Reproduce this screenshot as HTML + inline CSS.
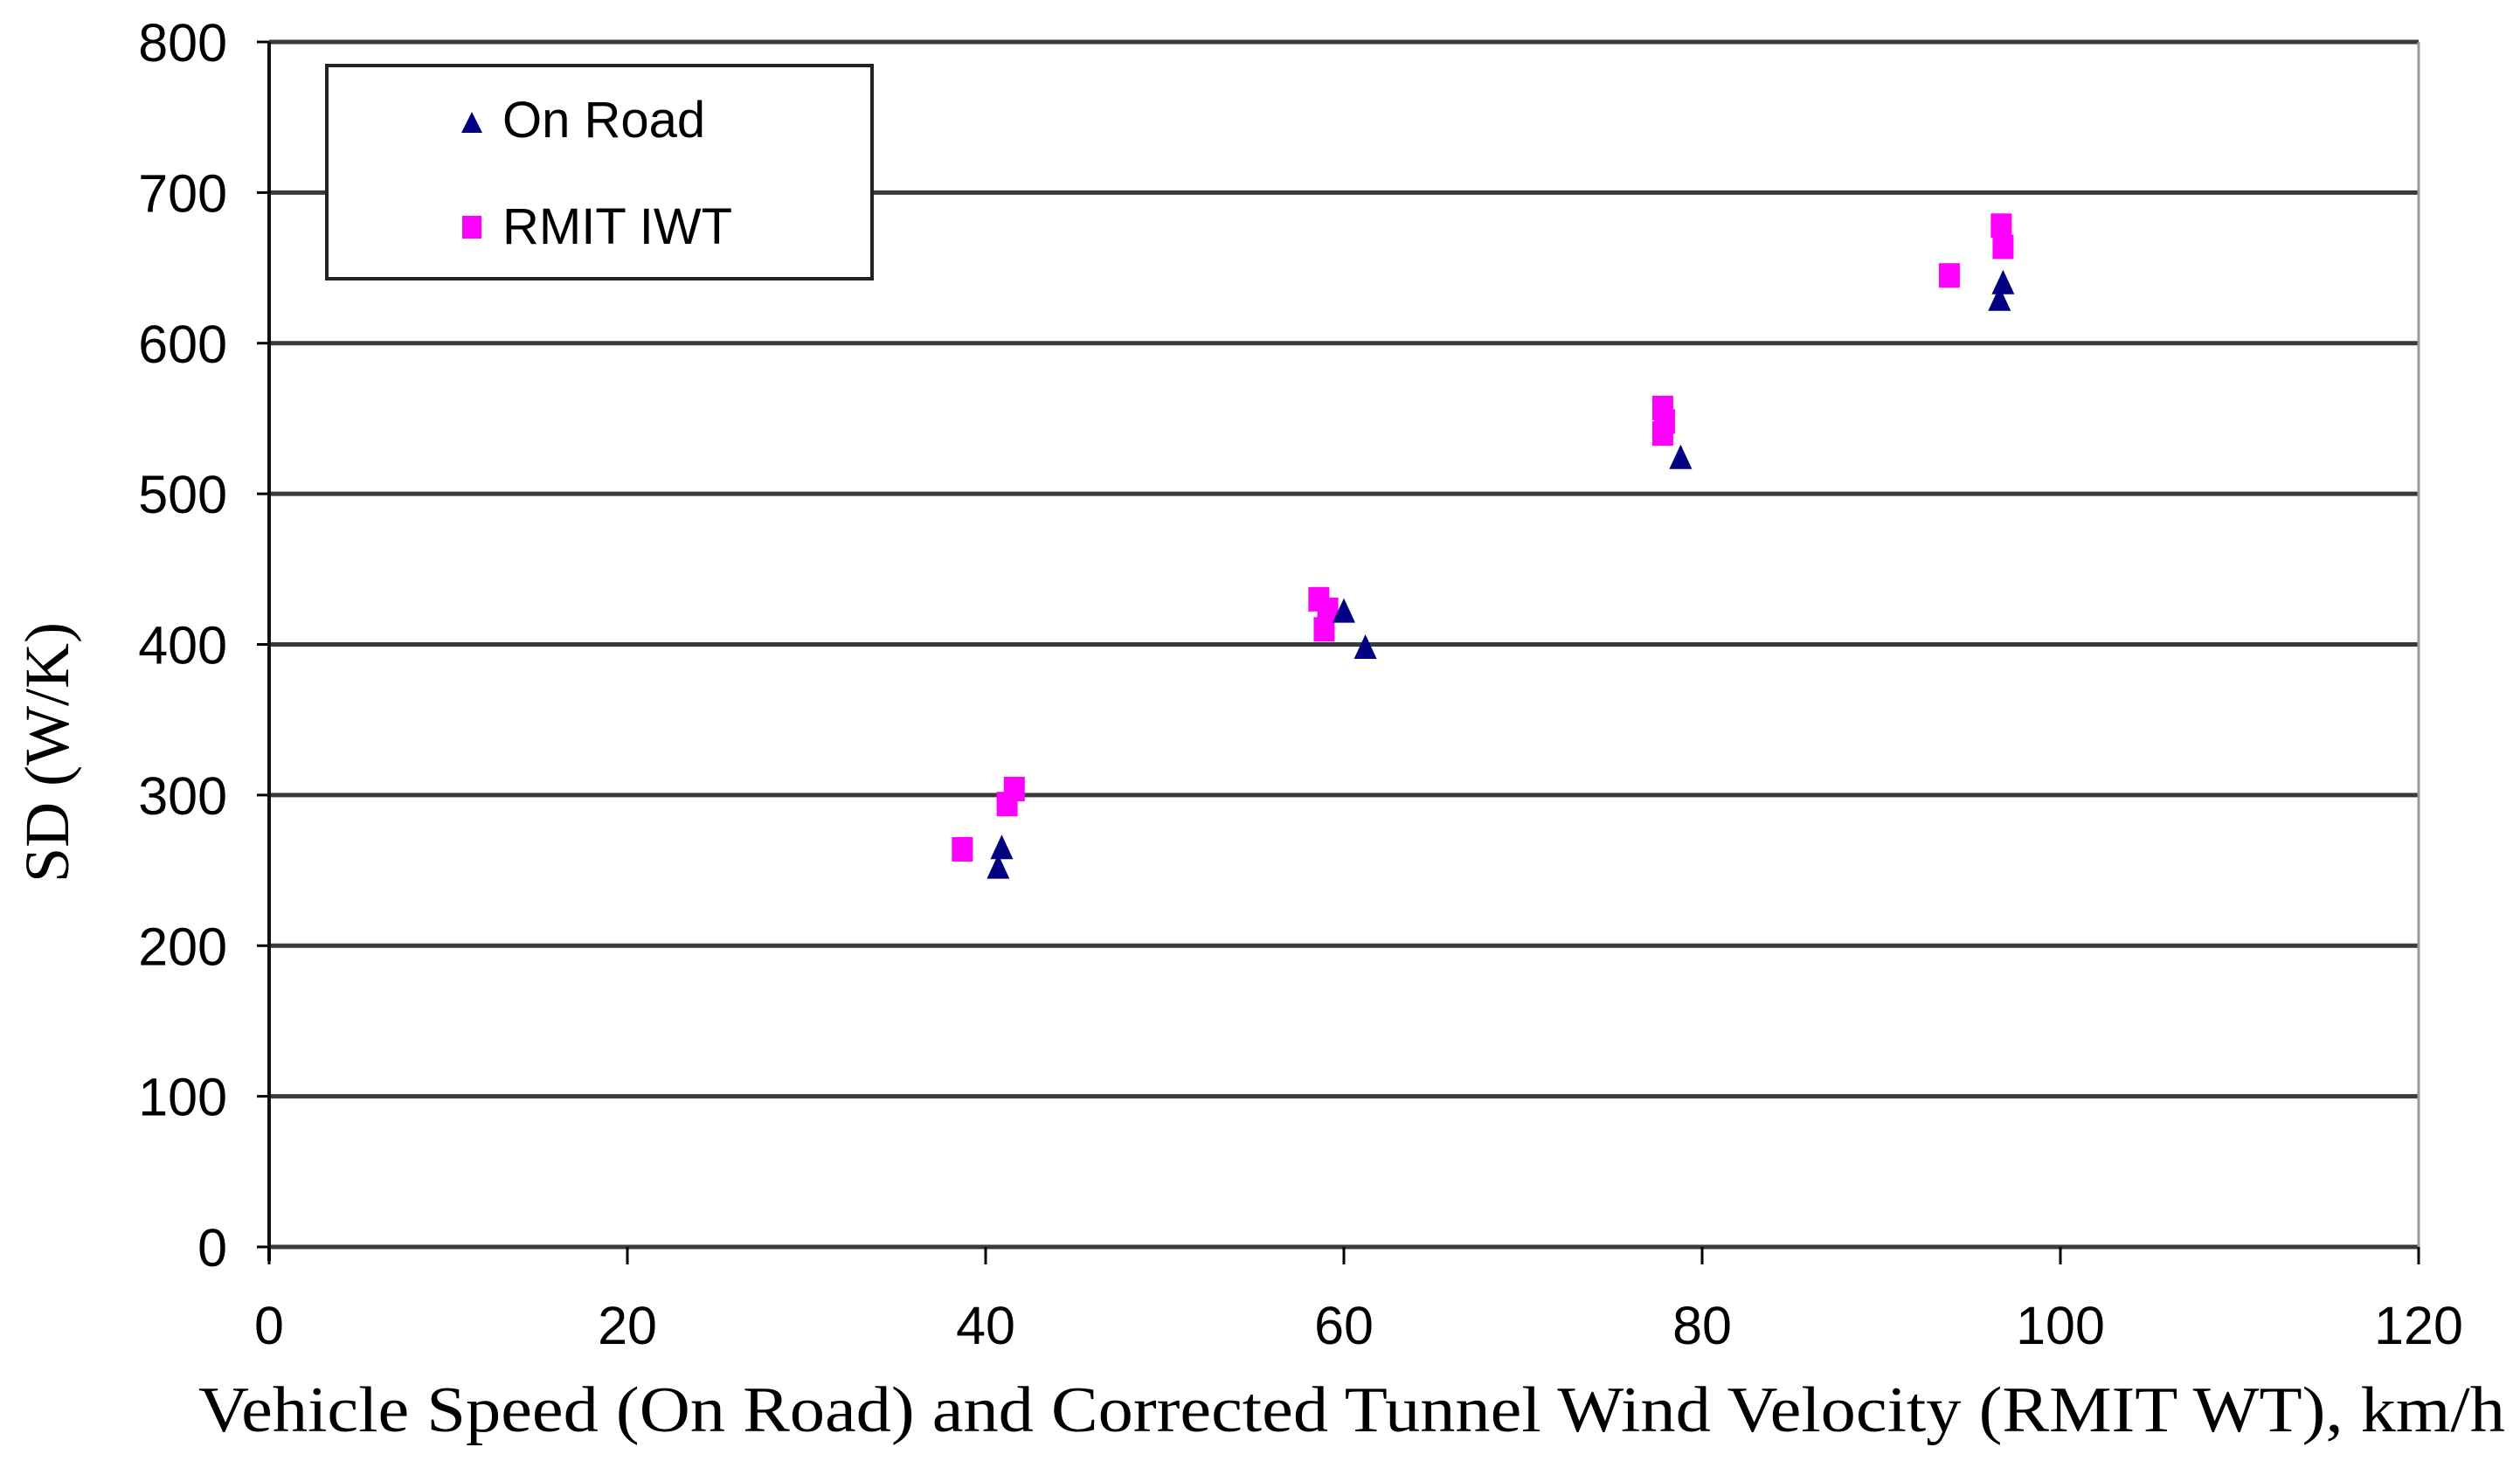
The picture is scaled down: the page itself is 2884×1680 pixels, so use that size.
<!DOCTYPE html>
<html><head><meta charset="utf-8"><style>
html,body{margin:0;padding:0;background:#fff;}
svg{display:block;}
</style></head><body>
<svg id="chart" width="2884" height="1680" viewBox="0 0 2884 1680" xmlns="http://www.w3.org/2000/svg">
<rect width="2884" height="1680" fill="#fff"/>
<g id="grid"></g>
<g id="axes"></g>
<g id="marks"></g>
<g id="legend">
  <rect x="374" y="75" width="624" height="244" fill="#fff" stroke="#222" stroke-width="4"/>
  <polygon points="540,128 552,152 528,152" fill="#000080"/>
  <text x="575" y="157" font-family="Liberation Sans, sans-serif" font-size="58" fill="#000">On Road</text>
  <rect x="529" y="247" width="22" height="26" fill="#ff00ff"/>
  <text x="575" y="279" font-family="Liberation Sans, sans-serif" font-size="58" fill="#000">RMIT IWT</text>
</g>
<text transform="translate(78,861) rotate(-90)" text-anchor="middle" font-family="Liberation Serif, serif" font-size="72" fill="#000">SD (W/K)</text>
<text x="227" y="1638" textLength="2640" lengthAdjust="spacingAndGlyphs" font-family="Liberation Serif, serif" font-size="74" fill="#000">Vehicle Speed (On Road) and Corrected Tunnel Wind Velocity (RMIT WT), km/h</text>
</svg>
<script>
const xTicks = [0, 20, 40, 60, 80, 100, 120];
const yTicks = [0, 100, 200, 300, 400, 500, 600, 700, 800];
const onRoadX = [40.9, 40.7, 60.0, 61.2, 78.8, 96.8, 96.6];
const onRoadY = [265, 252, 422, 398, 524, 640, 629];
const rmitX = [38.7, 41.6, 41.2, 58.6, 59.1, 58.9, 77.8, 77.8, 77.9, 93.8, 96.7, 96.8];
const rmitY = [264, 304, 294, 430, 423, 410, 557, 540, 548, 645, 678, 664];

const L = 308, R = 2768, T = 48, B = 1427;
const xs = v => L + (v - 0) / 120 * (R - L);
const ys = v => B - (v - 0) / 800 * (B - T);
const NS = 'http://www.w3.org/2000/svg';
function mk(tag, parent, attrs) {
  const e = document.createElementNS(NS, tag);
  for (const k in attrs) e.setAttribute(k, attrs[k]);
  parent.appendChild(e);
  return e;
}
const grid = document.getElementById('grid');
const axes = document.getElementById('axes');
const marks = document.getElementById('marks');

yTicks.forEach(v => {
  const y = ys(v);
  const gl = mk('line', grid, {x1: L, x2: R, y1: y, y2: y, stroke: '#3a3a3a', 'stroke-width': 5});
  
  
  const tk = mk('line', axes, {x1: L - 14, x2: L, y1: y, y2: y, stroke: '#000', 'stroke-width': 3});
  
  
  const t = mk('text', axes, {x: 260, y: y + 22, 'text-anchor': 'end', 'font-family': 'Liberation Sans, sans-serif', 'font-size': 61, fill: '#000'});
  t.textContent = v;
  
  
});
const rb = mk('line', axes, {x1: R, x2: R, y1: T, y2: B, stroke: '#999', 'stroke-width': 3});


const ya = mk('line', axes, {x1: L, x2: L, y1: T, y2: B + 16, stroke: '#111', 'stroke-width': 4});


xTicks.forEach(v => {
  const x = xs(v);
  const tk = mk('line', axes, {x1: x, x2: x, y1: B, y2: B + 20, stroke: '#000', 'stroke-width': 3});
  
  
  const t = mk('text', axes, {x: x, y: 1538, 'text-anchor': 'middle', 'font-family': 'Liberation Sans, sans-serif', 'font-size': 61, fill: '#000'});
  t.textContent = v;
  
  
});

rmitX.forEach((v, i) => {
  const x = xs(v), y = ys(rmitY[i]);
  const r = mk('rect', marks, {x: x - 12, y: y - 14, width: 24, height: 28, fill: '#ff00ff'});
  
  
});
onRoadX.forEach((v, i) => {
  const x = xs(v), y = ys(onRoadY[i]);
  const p = mk('polygon', marks, {points: `${x},${y - 15} ${x + 13},${y + 13} ${x - 13},${y + 13}`, fill: '#000080'});
  
  
});
</script>
</body></html>
